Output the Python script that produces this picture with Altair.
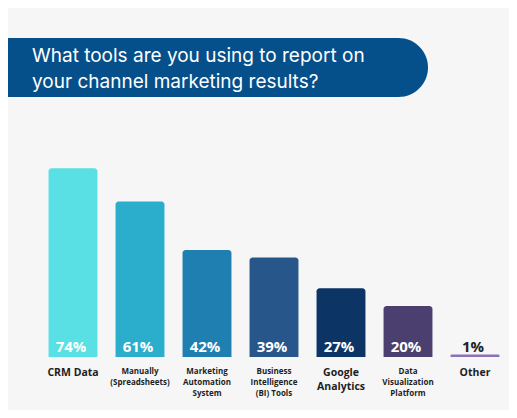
import altair as alt
import pandas as pd

# ---- data ----
categories = ["CRM Data", "Manually (Spreadsheets)", "Marketing Automation System",
              "Business Intelligence (BI) Tools", "Google Analytics",
              "Data Visualization Platform", "Other"]
label_lines = ["CRM Data", "Manually\n(Spreadsheets)", "Marketing\nAutomation\nSystem",
               "Business\nIntelligence\n(BI) Tools", "Google\nAnalytics",
               "Data\nVisualization\nPlatform", "Other"]
values = [74, 61, 42, 39, 27, 20, 1]
emphasized = ["CRM Data", "Google Analytics", "Other"]
colors = ["#59e0e4", "#2aaecb", "#1e7fb0", "#27568b", "#0c3566", "#4a3f6f", "#8c71b7"]
title_text = "What tools are you using to report on\nyour channel marketing results?"

df = pd.DataFrame({
    "category": categories,
    "label": label_lines,
    "value": values,
    "pct": [f"{v}%" for v in values],
    "big": [c in emphasized for c in categories],
})

W, H = 501, 402
base_y = 349
xscale = alt.Scale(domain=categories, range=[31.5, 500.5], paddingInner=0.27, paddingOuter=0.135)
yscale = alt.Scale(domain=[0, 100], range=[base_y, base_y - 255])
X = alt.X("category:N", scale=xscale, sort=categories, axis=None)
Y = alt.Y("value:Q", scale=yscale, axis=None)

base = alt.Chart(df)

bars = base.mark_bar(cornerRadiusTopLeft=3, cornerRadiusTopRight=3).encode(
    x=X, y=Y, y2=alt.datum(0),
    color=alt.Color("category:N", scale=alt.Scale(domain=categories, range=colors), legend=None),
)

pct = base.mark_text(font="Open Sans", fontWeight="bold", fontSize=15, baseline="alphabetic",
                     dy=-5, dx=-2).encode(
    x=X, y=alt.datum(0), text="pct:N",
    color=alt.condition(alt.datum.value < 5, alt.value("#222222"), alt.value("white")),
)

big_labels = base.transform_filter(alt.datum.big).mark_text(
    font="Open Sans", fontWeight="bold", fontSize=10.5, baseline="top", lineBreak="\n",
    lineHeight=14, dy=11, color="#1e1e1e").encode(x=X, y=alt.datum(0), text="label:N")

small_labels = base.transform_filter(~alt.datum.big).mark_text(
    font="Open Sans", fontWeight="bold", fontSize=8, baseline="top", lineBreak="\n",
    lineHeight=11, dy=11, color="#1e1e1e").encode(x=X, y=alt.datum(0), text="label:N")

one = alt.Chart(pd.DataFrame({"t": [title_text]}))
banner = one.mark_rect(color="#05508a", cornerRadiusTopRight=29.5,
                       cornerRadiusBottomRight=29.5).encode(
    x=alt.value(0), x2=alt.value(420), y=alt.value(30), y2=alt.value(89))
title = one.mark_text(font="Inter", fontSize=19, color="white", align="left",
                      baseline="alphabetic", lineBreak="\n", lineHeight=26).encode(
    x=alt.value(24), y=alt.value(54), text="t:N")

chart = alt.layer(banner, title, bars, pct, big_labels, small_labels).properties(
    width=W, height=H, padding=0, background="#f6f6f7",
    autosize=alt.AutoSizeParams(type="none"),
).configure_view(stroke=None)

chart.save("out.html", embed_options={"renderer": "svg", "actions": False})
